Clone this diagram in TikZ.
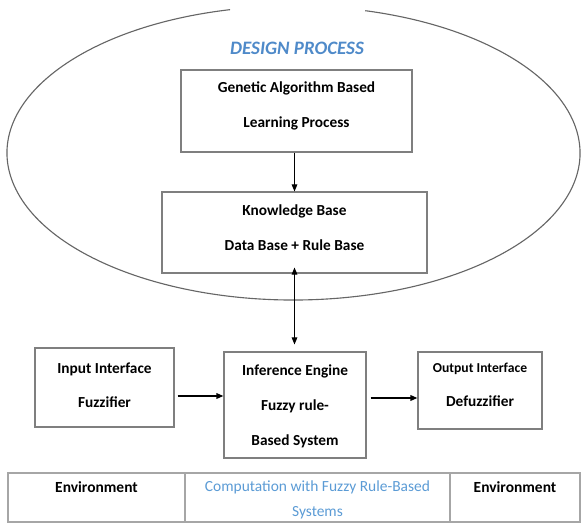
\documentclass[tikz,border=0pt]{standalone}
\usepackage{fontspec}
\setmainfont{Carlito}
\usepackage{xcolor}
\usepackage{tikz}
\usetikzlibrary{arrows.meta}
\definecolor{FRBlue}{HTML}{4F8AC9}
\definecolor{FRLightBlue}{HTML}{5B9BD5}
\definecolor{FRFrame}{HTML}{7F7F7F}
\definecolor{FRRule}{HTML}{A6A6A6}
\definecolor{FRCurve}{HTML}{666666}

\begin{document}
\begin{tikzpicture}[x=1cm,y=1cm,
  >={Triangle[length=5pt,width=4pt]},
  block/.style={draw=FRFrame,line width=.8pt,align=center,inner sep=0pt,
    text height=26pt,text depth=2pt,
    font=\fontsize{10.9}{24.8}\selectfont\bfseries},
  flow/.style={->,line width=.7pt},
  cell/.style={align=center,font=\fontsize{11}{17.8}\selectfont}]
\path[use as bounding box] (0,0) rectangle (14.525,13.075);
% design process
\coordinate (ell) at (7.3375,9.25);
\draw[FRCurve,line width=.8pt] (ell) ++(102.8:7.1625 and 3.675)
  arc[start angle=102.8,end angle=435.5,x radius=7.1625,y radius=3.675];
\node (title) at (7.425,11.875) {\fontsize{13.5}{16}\selectfont\bfseries\itshape\color{FRBlue} DESIGN PROCESS};
\node[block,minimum width=5.775cm,minimum height=2.05cm] (gen) at (7.4125,10.3) {Genetic Algorithm Based\\Learning Process};
\node[block,text height=28pt,minimum width=6.625cm,minimum height=2.025cm] (know) at (7.3625,7.2625) {Knowledge Base\\Data Base + Rule Base};
% fuzzy rule-based system
\node[block,text height=31pt,minimum width=3.475cm,minimum height=1.975cm] (in) at (2.6125,3.3875) {Input Interface\\Fuzzifier};
\node[block,text height=59pt,minimum width=3.55cm,minimum height=2.65cm] (inf) at (7.375,2.95) {Inference Engine\\Fuzzy rule-\\Based System};
\node[block,text height=25.4pt,minimum width=3.1cm,minimum height=1.925cm] (out) at (12.0,3.3125) {{\fontsize{9.7}{24.8}\selectfont Output Interface}\\Defuzzifier};
\draw[flow] (gen.south -| know) -- (know.north);
\draw[flow,<->,shorten >=.175cm] ([yshift=.15cm]know.south) -- (inf.north -| know.south);
\draw[flow,line width=1pt] ([xshift=.075cm,yshift=-.2125cm]in.east) -- ([yshift=-.2125cm]in.east -| inf.west);
\draw[flow,line width=1pt] ([xshift=.1cm,yshift=.175cm]inf.east) -- ([yshift=.175cm]inf.east -| out.west);
% table
\draw[FRRule,line width=.8pt] (0.2,0.025) rectangle (14.5,1.25);
\draw[FRRule,line width=.8pt] (4.625,0.025) -- (4.625,1.25) (11.25,0.025) -- (11.25,1.25);
\node[cell,font=\fontsize{11}{17.8}\selectfont\bfseries] (envin) at (2.4125,0.9) {Environment};
\node[cell,text=FRLightBlue] (comp) at (7.9375,0.5875) {Computation with Fuzzy Rule-Based\\Systems};
\node[cell,font=\fontsize{11}{17.8}\selectfont\bfseries] (envout) at (12.875,0.9) {Environment};
\end{tikzpicture}
\end{document}
